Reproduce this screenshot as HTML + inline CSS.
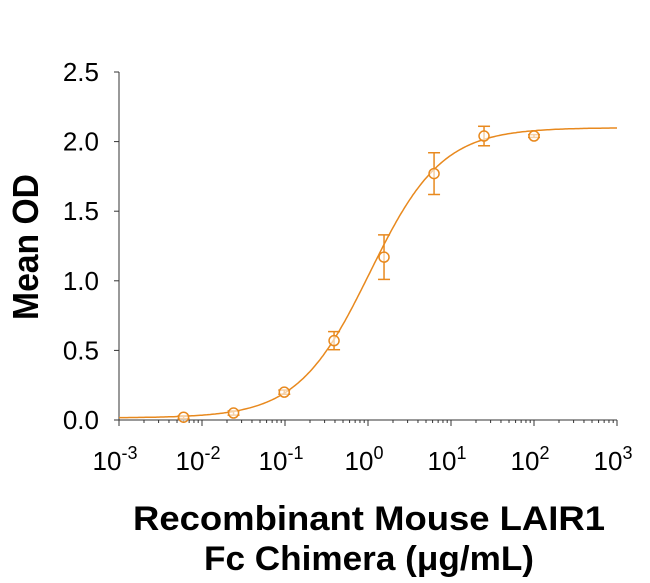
<!DOCTYPE html>
<html><head><meta charset="utf-8"><style>
body{margin:0;background:#fff}
svg{display:block;font-family:"Liberation Sans",Arial,sans-serif}
</style></head><body>
<svg id="chart" width="650" height="583" viewBox="0 0 650 583">
<g id="axes"></g>
<g id="plot"></g>
<text transform="translate(38,247) rotate(-90) scale(1,1.2)" text-anchor="middle" font-size="30" font-weight="bold" textLength="146" lengthAdjust="spacingAndGlyphs">Mean OD</text>
<text text-anchor="middle" font-size="30" font-weight="bold" transform="translate(369,530) scale(1,1.15)" textLength="472" lengthAdjust="spacingAndGlyphs">Recombinant Mouse LAIR1</text>
<text text-anchor="middle" font-size="30" font-weight="bold" transform="translate(369,570) scale(1,1.15)" textLength="330" lengthAdjust="spacingAndGlyphs">Fc Chimera (μg/mL)</text>
</svg>
<script>
const concentrations=[0.006,0.024,0.098,0.39,1.56,6.25,25,100];
const meanOD=[0.02,0.05,0.2,0.57,1.17,1.77,2.04,2.04];
const errorSD=[0.01,0.015,0.015,0.065,0.16,0.15,0.07,0.01];
const fitParams=[0.015,2.1,1.05,1.0]; // bottom, top, EC50, hill
const yTicks=[0,0.5,1.0,1.5,2.0,2.5];
const xDecades=[-3,-2,-1,0,1,2,3];
const NS="http://www.w3.org/2000/svg";
const X0=119,X1=617,Y0=420,Y1=72;
const xs=v=>X0+(Math.log10(v)+3)/6*(X1-X0);
const ys=v=>Y0-v/2.5*(Y0-Y1);
const C="#e8891e";
function mk(p,tag,at){const e=document.createElementNS(NS,tag);for(const k in at)e.setAttribute(k,at[k]);p.appendChild(e);return e;}
const ax=document.getElementById('axes'),pl=document.getElementById('plot');
let e=mk(ax,'line',{x1:X0,y1:Y0,x2:X1,y2:Y0,stroke:'#333','stroke-width':1});


e=mk(ax,'line',{x1:X0,y1:Y0,x2:X0,y2:Y1,stroke:'#333','stroke-width':1});


yTicks.forEach(t=>{
 mk(ax,'line',{x1:X0-5,y1:ys(t),x2:X0,y2:ys(t),stroke:'#333'});
 const tx=mk(ax,'text',{x:X0-20,y:ys(t)+9,'text-anchor':'end','font-size':26});
 tx.textContent=t.toFixed(1);
 
 
});
xDecades.forEach(d=>{
 const x=xs(Math.pow(10,d));
 mk(ax,'line',{x1:x,y1:Y0,x2:x,y2:Y0+6,stroke:'#333'});
 if(d<3)for(let m=2;m<10;m++){const xm=xs(m*Math.pow(10,d));mk(ax,'line',{x1:xm,y1:Y0,x2:xm,y2:Y0+3,stroke:'#333'});}
 const tx=mk(ax,'text',{x:x-4,y:470,'text-anchor':'middle','font-size':26});
 
 
 tx.appendChild(document.createTextNode('10'));
 const s=document.createElementNS(NS,'tspan');s.setAttribute('dy','-11');s.setAttribute('font-size','18');s.textContent=String(d);tx.appendChild(s);
});
const [b,tp,ec,h]=fitParams;
let pts=[];for(let i=0;i<=300;i++){const lx=-3+6*i/300,v=Math.pow(10,lx);pts.push(xs(v).toFixed(1)+','+ys(b+(tp-b)/(1+Math.pow(ec/v,h))).toFixed(1));}
e=mk(pl,'polyline',{points:pts.join(' '),fill:'none',stroke:C,'stroke-width':1.5});


concentrations.forEach((c,i)=>{
 const x=xs(c),y=ys(meanOD[i]),yt=ys(meanOD[i]+errorSD[i]),yb=ys(meanOD[i]-errorSD[i]);
 const g=mk(pl,'g',{});
 
 
 mk(g,'line',{x1:x,y1:yt,x2:x,y2:yb,stroke:C,'stroke-width':1.5});
 mk(g,'line',{x1:x-6,y1:yt,x2:x+6,y2:yt,stroke:C,'stroke-width':1.5});
 mk(g,'line',{x1:x-6,y1:yb,x2:x+6,y2:yb,stroke:C,'stroke-width':1.5});
 mk(g,'circle',{cx:x,cy:y,r:5,fill:'#fff','fill-opacity':0.6,stroke:C,'stroke-width':1.5});
});
</script>
</body></html>
